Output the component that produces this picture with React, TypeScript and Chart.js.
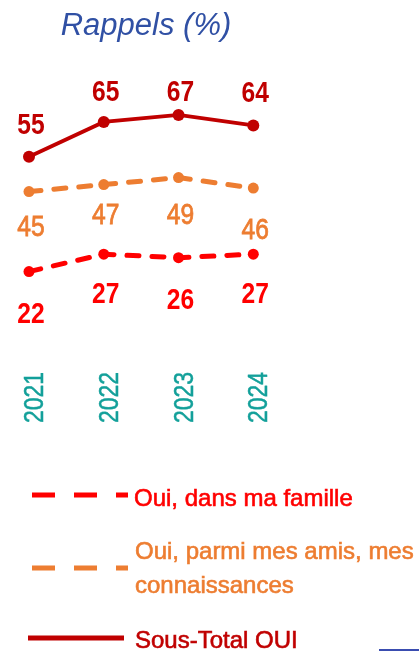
import React, { useEffect, useRef } from "react";
import { Chart, registerables } from "chart.js";

Chart.register(...registerables);

// ---- data ----
const TITLE = "Rappels (%)";
const YEARS = ["2021", "2022", "2023", "2024"];
const FAMILLE = [22, 27, 26, 27];
const AMIS = [45, 47, 49, 46];
const SOUS_TOTAL = [55, 65, 67, 64];
const LABEL_FAMILLE = ["Oui, dans ma famille"];
const LABEL_AMIS = ["Oui, parmi mes amis, mes", "connaissances"];
const LABEL_TOTAL = ["Sous-Total OUI"];

// ---- styles ----
const RED = "#FF0000";
const ORANGE = "#ED7D31";
const DARK_RED = "#C00000";
const TEAL = "#13A09A";
const TITLE_BLUE = "#3050A4";
const FONT = "'Liberation Sans', Arial, sans-serif";
const NARROW = 0.82; // horizontal squeeze to mimic a condensed DIN face

// per-point vertical offsets of value labels (px, + = below), to the label's cap centre
const OFFSETS_FAMILLE = [41, 38.5, 40.5, 38.5];
const OFFSETS_AMIS = [34, 28.5, 35.5, 40.5];
const OFFSETS_TOTAL = [-33.5, -32, -25, -34];

const LEGEND_LAYOUT = [
  { lineY: 495, x0: 32, x1: 128, textX: 134, baselines: [506] },
  { lineY: 568, x0: 32, x1: 128, textX: 135, baselines: [559, 593] },
  { lineY: 638, x0: 28, x1: 124, textX: 135, baselines: [648] },
];

function squeezedText(ctx: CanvasRenderingContext2D, text: string, x: number, y: number, rot: number, embolden = 0) {
  ctx.save();
  ctx.translate(x, y);
  if (rot) ctx.rotate(rot);
  ctx.scale(NARROW, 1);
  ctx.fillText(text, 0, 0);
  if (embolden) {
    ctx.lineWidth = embolden;
    ctx.strokeText(text, 0, 0);
  }
  ctx.restore();
}

const valueLabelPlugin = {
  id: "valueLabels",
  afterDatasetsDraw(chart: any) {
    const ctx = chart.ctx;
    chart.data.datasets.forEach((ds: any, i: number) => {
      const meta = chart.getDatasetMeta(i);
      ctx.save();
      ctx.fillStyle = ds.borderColor;
      ctx.strokeStyle = ds.borderColor;
      ctx.font = `${ds._labelWeight} 30px ${FONT}`;
      ctx.textAlign = "center";
      ctx.textBaseline = "alphabetic";
      meta.data.forEach((pt: any, j: number) => {
        squeezedText(ctx, String(ds.data[j]), pt.x + 2, pt.y + ds._labelOffsets[j] + 10.7, 0, ds._labelWeight === "normal" ? 0.8 : 0);
      });
      ctx.restore();
    });
  },
};

const axisLabelPlugin = {
  id: "axisLabels",
  afterDraw(chart: any) {
    const ctx = chart.ctx;
    const sx = chart.scales.x;
    ctx.save();
    ctx.fillStyle = TEAL;
    ctx.strokeStyle = TEAL;
    ctx.font = `28px ${FONT}`;
    ctx.textAlign = "right";
    ctx.textBaseline = "alphabetic";
    sx.ticks.forEach((t: any, i: number) => {
      const x = sx.getPixelForTick(i);
      squeezedText(ctx, String(chart.data.labels[i]), x + 14, sx.top + 3, -Math.PI / 2, 0.5);
    });
    ctx.restore();
  },
};

const decorPlugin = {
  id: "decor",
  afterDraw(chart: any) {
    const ctx = chart.ctx;
    ctx.save();
    // title
    ctx.fillStyle = TITLE_BLUE;
    ctx.font = `italic 31px ${FONT}`;
    ctx.textAlign = "center";
    ctx.textBaseline = "alphabetic";
    ctx.fillText(TITLE, 146, 35);

    // legend
    chart.data.datasets.forEach((ds: any) => {
      const l = LEGEND_LAYOUT[ds._legendIndex];
      ctx.strokeStyle = ds.borderColor;
      ctx.lineWidth = 5;
      ctx.lineCap = "butt";
      ctx.setLineDash(ds._legendDash);
      ctx.beginPath();
      ctx.moveTo(l.x0, l.lineY);
      ctx.lineTo(l.x1, l.lineY);
      ctx.stroke();
      ctx.setLineDash([]);
      ctx.fillStyle = ds.borderColor;
      ctx.lineWidth = 0.6;
      ctx.font = `24px ${FONT}`;
      ctx.textAlign = "left";
      ctx.textBaseline = "alphabetic";
      ds._legendLines.forEach((t: string, k: number) => {
        ctx.fillText(t, l.textX, l.baselines[k]);
        ctx.strokeText(t, l.textX, l.baselines[k]);
      });
    });

    // small blue rule at bottom right
    ctx.strokeStyle = "#3A4DB0";
    ctx.lineWidth = 2;
    ctx.beginPath();
    ctx.moveTo(379, 650);
    ctx.lineTo(419, 650);
    ctx.stroke();
    ctx.restore();
  },
};

export default function App() {
  const ref = useRef<HTMLCanvasElement | null>(null);

  useEffect(() => {
    document.body.style.margin = "0";
    document.body.style.overflow = "hidden";
    const canvas = ref.current;
    if (!canvas) return;
    const chart = new Chart(canvas, {
      type: "line",
      data: {
        labels: YEARS,
        datasets: [
          {
            label: LABEL_FAMILLE.join(" "),
            data: FAMILLE,
            borderColor: RED,
            backgroundColor: RED,
            borderWidth: 5,
            borderDash: [12, 13],
            borderCapStyle: "round",
            pointRadius: 5.5,
            pointBorderWidth: 0,
            tension: 0,
            clip: false,
            _labelWeight: "bold",
            _labelOffsets: OFFSETS_FAMILLE,
            _legendIndex: 0,
            _legendDash: [23, 19],
            _legendLines: LABEL_FAMILLE,
          } as any,
          {
            label: LABEL_AMIS.join(" "),
            data: AMIS,
            borderColor: ORANGE,
            backgroundColor: ORANGE,
            borderWidth: 5,
            borderDash: [12, 13],
            borderCapStyle: "round",
            pointRadius: 5.5,
            pointBorderWidth: 0,
            tension: 0,
            clip: false,
            _labelWeight: "normal",
            _labelOffsets: OFFSETS_AMIS,
            _legendIndex: 1,
            _legendDash: [23, 19],
            _legendLines: LABEL_AMIS,
          } as any,
          {
            label: LABEL_TOTAL.join(" "),
            data: SOUS_TOTAL,
            borderColor: DARK_RED,
            backgroundColor: DARK_RED,
            borderWidth: 3.8,
            pointRadius: 6,
            pointBorderWidth: 0,
            tension: 0,
            clip: false,
            _labelWeight: "bold",
            _labelOffsets: OFFSETS_TOTAL,
            _legendIndex: 2,
            _legendDash: [],
            _legendLines: LABEL_TOTAL,
          } as any,
        ],
      },
      options: {
        responsive: false,
        animation: false,
        layout: { padding: { top: 60, left: 29, right: 165.7, bottom: 232 } },
        plugins: {
          legend: { display: false },
          title: { display: false },
          tooltip: { enabled: false },
        },
        scales: {
          x: {
            offset: false,
            grid: { display: false, drawTicks: false },
            border: { display: false },
            afterFit: (scale: any) => {
              scale.height = 50;
            },
            ticks: { display: false, autoSkip: false },
          },
          y: {
            display: false,
            min: -6,
            max: 82.8,
          },
        },
      },
      plugins: [valueLabelPlugin, axisLabelPlugin, decorPlugin],
    });
    return () => chart.destroy();
  }, []);

  return <canvas ref={ref} width={419} height={651} style={{ display: "block" }} />;
}
